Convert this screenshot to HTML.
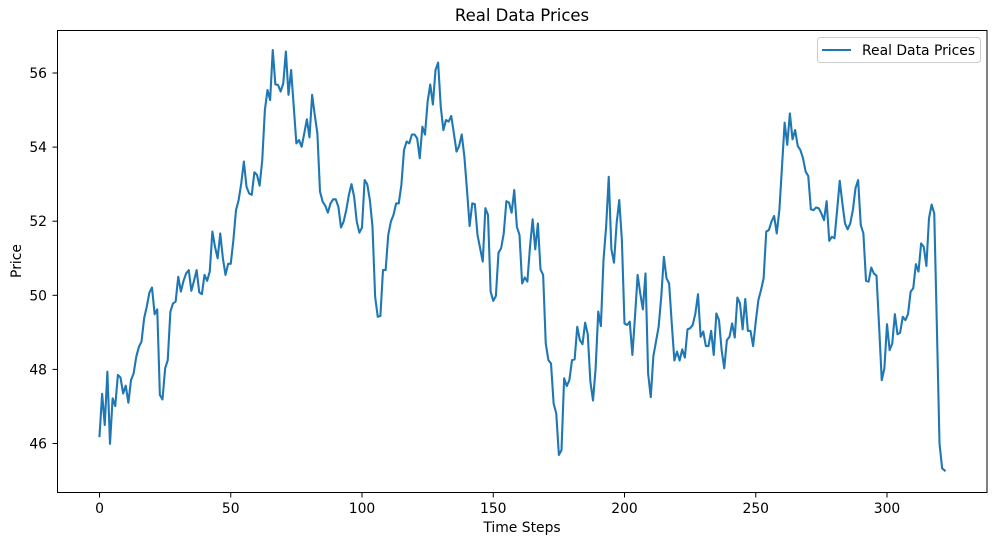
<!DOCTYPE html>
<html><head><meta charset="utf-8"><style>
html,body{margin:0;padding:0;background:#fff;}
svg{display:block;font-family:"DejaVu Sans","Liberation Sans",sans-serif;}
</style></head><body>
<svg id="chart" width="997" height="545" viewBox="0 0 997 545" xmlns="http://www.w3.org/2000/svg">
<rect width="997" height="545" fill="#fff"/>
<text x="522" y="21" font-size="16.5" text-anchor="middle" fill="#000">Real Data Prices</text>
<g id="xticks"></g>
<g id="yticks"></g>
<path id="line" fill="none" stroke="#1f77b4" stroke-width="2.1" stroke-linejoin="round" stroke-linecap="square"/>
<rect x="57.5" y="30.5" width="929.5" height="462" fill="none" stroke="#000" stroke-width="1"/>
<text x="522" y="532" font-size="13.9" text-anchor="middle">Time Steps</text>
<text x="0" y="0" font-size="13.9" text-anchor="middle" transform="translate(21,261) rotate(-90)">Price</text>
<g>
<rect x="817.5" y="37.5" width="163" height="25" rx="3" fill="#fff" fill-opacity="0.8" stroke="#ccc" stroke-width="1"/>
<line x1="822" y1="50" x2="851" y2="50" stroke="#1f77b4" stroke-width="2.1"/>
<text x="862" y="55" font-size="13.9">Real Data Prices</text>
</g>
</svg>
<script>
const prices = [
46.20,47.34,46.50,47.94,45.99,47.22,47.01,47.85,47.78,47.35,
47.56,47.10,47.71,47.89,48.34,48.61,48.75,49.38,49.69,50.07,
50.21,49.49,49.62,47.31,47.19,48.03,48.25,49.56,49.78,49.83,
50.50,50.10,50.39,50.59,50.68,50.12,50.39,50.68,50.08,50.03,
50.55,50.39,50.64,51.72,51.31,51.00,51.67,51.00,50.55,50.85,
50.85,51.49,52.30,52.57,53.02,53.61,52.93,52.75,52.71,53.32,
53.25,52.96,53.65,55.00,55.54,55.27,56.62,55.69,55.68,55.50,
55.72,56.58,55.41,56.08,55.09,54.10,54.19,54.01,54.37,54.75,
54.26,55.41,54.87,54.37,
52.80,52.53,52.42,52.23,52.48,52.59,52.59,52.39,51.83,51.99,
52.30,52.71,53.00,52.66,51.99,51.69,51.83,53.11,53.00,52.57,
51.85,49.96,49.42,49.44,50.68,50.68,51.63,51.99,52.17,52.48,
52.48,52.98,53.92,54.15,54.10,54.34,54.34,54.24,53.70,54.55,
54.34,55.23,55.69,55.15,56.08,56.28,55.09,54.46,54.73,54.69,
54.84,54.37,53.88,54.03,54.34,53.74,52.84,51.87,52.48,52.46,
51.63,51.27,50.91,52.35,52.17,50.10,49.85,49.98,51.15,51.27,
51.67,52.54,52.50,52.23,52.84,51.85,51.63,50.32,50.48,50.37,
51.31,52.05,51.24,51.94,50.70,50.55,48.70,48.25,48.16,47.08,
46.81,45.69,
45.82,47.76,47.55,47.71,48.25,48.27,49.15,48.79,48.68,49.26,
48.95,47.67,47.16,48.03,49.56,49.17,50.95,51.85,53.20,51.24,
50.88,51.94,52.57,51.49,49.24,49.20,49.29,48.39,49.42,50.55,
50.05,49.62,50.59,47.89,47.25,48.36,48.75,49.15,49.96,51.04,
50.46,50.32,49.24,48.24,48.48,48.24,48.54,48.32,49.08,49.11,
49.20,49.51,50.03,48.88,49.02,48.63,48.63,49.04,48.39,49.51,
49.33,48.52,48.03,48.79,48.88,49.24,48.86,49.94,49.78,49.08,
49.90,49.04,49.04,48.63,49.29,49.87,50.14,50.46,51.72,51.76,
51.99,52.14,51.67,52.30,53.47,54.66,54.06,54.91,54.21,54.46,
54.03,53.92,53.70,53.34,53.22,52.32,52.30,52.37,52.35,52.21,
52.03,52.54,51.47,51.58,51.54,52.30,53.09,52.48,51.94,51.78,
51.94,52.30,52.89,53.11,51.90,51.67,50.39,50.37,50.75,50.59,
50.53,49.15,47.71,48.03,49.22,48.52,48.70,49.49,48.95,48.99,
49.42,49.33,49.49,50.10,50.19,50.84,50.64,51.40,51.31,50.79,
52.08,52.45,52.21,49.15,46.00,45.33,45.27
];
const xTickValues = [0,50,100,150,200,250,300];
const yTickValues = [46,48,50,52,54,56];

const NS = "http://www.w3.org/2000/svg";
function xScale(i){ return 99.5 + i * 2.625; }
function yScale(v){ return 443.5 - (v - 46) * 37.05; }

let d = "";
prices.forEach((v,i)=>{ d += (i?"L":"M") + xScale(i).toFixed(2) + "," + yScale(v).toFixed(2); });
document.getElementById("line").setAttribute("d", d);

const xg = document.getElementById("xticks");
xTickValues.forEach(t=>{
  const x = xScale(t);
  const ln = document.createElementNS(NS,"line");
  
  
  ln.setAttribute("x1",x); ln.setAttribute("x2",x);
  ln.setAttribute("y1",492.5); ln.setAttribute("y2",497.5);
  ln.setAttribute("stroke","#000");
  xg.appendChild(ln);
  const tx = document.createElementNS(NS,"text");
  
  
  tx.setAttribute("x",x); tx.setAttribute("y",513);
  tx.setAttribute("font-size","13.9"); tx.setAttribute("text-anchor","middle");
  tx.textContent = t;
  xg.appendChild(tx);
});
const yg = document.getElementById("yticks");
yTickValues.forEach(t=>{
  const y = yScale(t);
  const ln = document.createElementNS(NS,"line");
  
  
  ln.setAttribute("x1",52.5); ln.setAttribute("x2",57.5);
  ln.setAttribute("y1",y); ln.setAttribute("y2",y);
  ln.setAttribute("stroke","#000");
  yg.appendChild(ln);
  const tx = document.createElementNS(NS,"text");
  
  
  tx.setAttribute("x",47); tx.setAttribute("y",y+5);
  tx.setAttribute("font-size","13.9"); tx.setAttribute("text-anchor","end");
  tx.textContent = t;
  yg.appendChild(tx);
});
</script>
</body></html>
